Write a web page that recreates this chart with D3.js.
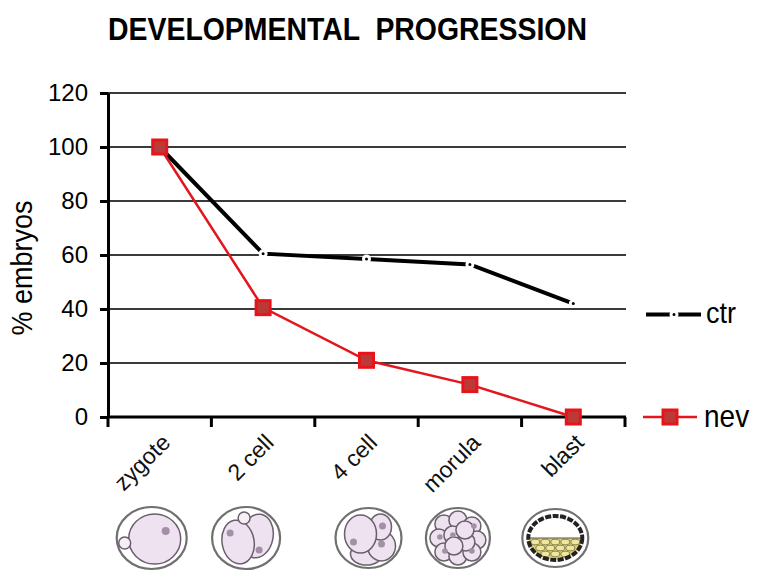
<!DOCTYPE html>
<html>
<head>
<meta charset="utf-8">
<script src="https://cdn.jsdelivr.net/npm/d3@7"></script>
<style>
  body { margin: 0; background: #fff; }
  text { font-family: Arial, "Liberation Sans", sans-serif; }
</style>
</head>
<body>
<script>
const wi = 757, hi = 584;     // width & height

// data
const stages = ['zygote', '2 cell', '4 cell', 'morula', 'blast'];
const ctr = [100, 60.5, 58.5, 56.5, 42];
const nev = [100, 40.5, 21, 12, 0];
const yTicks = [0, 20, 40, 60, 80, 100, 120];

const padL = 108, padR = 625, padT = 93, padB = 417;

let svg = d3.select('body')
    .append('svg')
    .attr('width', wi)
    .attr('height', hi);

let x = d3.scaleBand().domain(stages).range([padL, padR]);
let y = d3.scaleLinear().domain([0, 120]).range([padB, padT]);
const cx = (d) => x(d) + x.bandwidth() / 2;

// title
svg.append('text')
    .text('DEVELOPMENTAL  PROGRESSION')
    .attr('transform', 'translate(108,40) scale(1,1.1)')
    .attr('font-size', 28)
    .attr('font-weight', 'bold')
    .attr('textLength', 479)
    .attr('lengthAdjust', 'spacingAndGlyphs')
    .style('white-space', 'pre');

// grid lines
svg.append('g')
    .selectAll('line')
    .data(yTicks.filter((d) => d > 0))
    .enter()
    .append('line')
    .attr('x1', padL).attr('x2', padR + 1)
    .attr('y1', (d) => y(d)).attr('y2', (d) => y(d))
    .attr('stroke', '#3a3a3a')
    .attr('stroke-width', 2);

// y axis
let yAxis = svg.append('g')
    .attr('transform', `translate(${padL},0)`)
    .call(d3.axisLeft(y).tickValues(yTicks).tickSize(8).tickPadding(12).tickSizeOuter(0));
yAxis.select('.domain').attr('stroke', '#000').attr('stroke-width', 3);
yAxis.selectAll('.tick line').attr('stroke', '#000').attr('stroke-width', 3);
yAxis.selectAll('.tick text')
    .attr('font-size', 24)
    .attr('font-family', 'Arial, "Liberation Sans", sans-serif')
    .attr('fill', '#000');

// y label
svg.append('text')
    .text('% embryos')
    .attr('transform', `translate(32,268) rotate(-90) scale(1,1.12)`)
    .attr('text-anchor', 'middle')
    .attr('font-size', 27);

// x axis
let xAxis = svg.append('g');
xAxis.append('line')
    .attr('x1', padL - 1).attr('x2', padR + 1)
    .attr('y1', padB).attr('y2', padB)
    .attr('stroke', '#000').attr('stroke-width', 3);
xAxis.selectAll('line.tk')
    .data(d3.range(stages.length + 1))
    .enter()
    .append('line')
    .attr('class', 'tk')
    .attr('x1', (i) => padL + i * x.step())
    .attr('x2', (i) => padL + i * x.step())
    .attr('y1', padB).attr('y2', padB + 10)
    .attr('stroke', '#000').attr('stroke-width', 3);

xAxis.selectAll('text')
    .data(stages)
    .enter()
    .append('text')
    .text((d) => d)
    .attr('transform', (d) => `translate(${cx(d) + 12},${padB + 27}) rotate(-45)`)
    .attr('text-anchor', 'end')
    .attr('font-size', 23)
    .attr('fill', '#111');

// lines
let line = d3.line()
    .x((d, i) => cx(stages[i]))
    .y((d) => y(d))
    .curve(d3.curveLinear);

svg.append('path')
    .attr('d', line(ctr))
    .attr('stroke', '#000')
    .attr('stroke-width', 4)
    .attr('fill', 'none');

svg.selectAll('circle.ctr')
    .data(ctr)
    .enter()
    .append('circle')
    .attr('class', 'ctr')
    .attr('cx', (d, i) => cx(stages[i]))
    .attr('cy', (d) => y(d))
    .attr('r', 3)
    .attr('fill', '#000')
    .attr('stroke', '#fff')
    .attr('stroke-width', 3);

svg.append('path')
    .attr('d', line(nev))
    .attr('stroke', '#e3161d')
    .attr('stroke-width', 2.5)
    .attr('fill', 'none');

svg.selectAll('rect.nev')
    .data(nev)
    .enter()
    .append('rect')
    .attr('class', 'nev')
    .attr('x', (d, i) => cx(stages[i]) - 7)
    .attr('y', (d) => y(d) - 7)
    .attr('width', 14)
    .attr('height', 14)
    .attr('fill', '#b93a36')
    .attr('stroke', '#e8141c')
    .attr('stroke-width', 3);

// legend
let lg = svg.append('g');
lg.append('line')
    .attr('x1', 646).attr('x2', 701).attr('y1', y(38)).attr('y2', y(38))
    .attr('stroke', '#000').attr('stroke-width', 4);
lg.append('circle')
    .attr('cx', 674).attr('cy', y(38)).attr('r', 3)
    .attr('fill', '#000').attr('stroke', '#fff').attr('stroke-width', 3);
lg.append('text').text('ctr')
    .attr('transform', `translate(706,${y(38) + 9}) scale(1,1.1)`)
    .attr('font-size', 27);

lg.append('line')
    .attr('x1', 643).attr('x2', 697).attr('y1', y(0)).attr('y2', y(0))
    .attr('stroke', '#e3161d').attr('stroke-width', 2.5);
lg.append('rect')
    .attr('x', 663).attr('y', y(0) - 7).attr('width', 14).attr('height', 14)
    .attr('fill', '#b93a36').attr('stroke', '#e8141c').attr('stroke-width', 3);
lg.append('text').text('nev')
    .attr('transform', `translate(704,${y(0) + 10}) scale(1,1.15)`)
    .attr('font-size', 28);

// embryo drawings under the axis
const ring = '#707070', edge = '#6a5f6c', cyto = '#eee2f0', nuc = '#a48fa8';
const iconY = 538;

function shell(g, rx, ry) {
    g.append('ellipse').attr('rx', rx).attr('ry', ry)
        .attr('fill', '#fff').attr('stroke', ring).attr('stroke-width', 2.2);
}
function cell(g, x0, y0, rx, ry, rot) {
    g.append('ellipse').attr('cx', x0).attr('cy', y0).attr('rx', rx).attr('ry', ry)
        .attr('transform', rot ? `rotate(${rot},${x0},${y0})` : null)
        .attr('fill', cyto).attr('stroke', edge).attr('stroke-width', 1.5);
}
function dot(g, x0, y0, r) {
    g.append('circle').attr('cx', x0).attr('cy', y0).attr('r', r || 3.5).attr('fill', nuc);
}

const icons = {
    'zygote': (g) => {
        shell(g, 35, 31);
        cell(g, 3, 1, 26, 25);
        g.append('circle').attr('cx', -27).attr('cy', 5).attr('r', 6)
            .attr('fill', '#f6f0f6').attr('stroke', edge).attr('stroke-width', 1.5);
        dot(g, 14, -7, 4);
    },
    '2 cell': (g) => {
        shell(g, 34, 31);
        cell(g, 11, -2, 16, 22, 10);
        cell(g, -8, 4, 16, 22, -10);
        g.append('circle').attr('cx', -2).attr('cy', -20).attr('r', 6)
            .attr('fill', '#f6f0f6').attr('stroke', edge).attr('stroke-width', 1.5);
        dot(g, -16, -5);
        dot(g, 13, 12);
    },
    '4 cell': (g) => {
        shell(g, 33, 30);
        cell(g, -2, 16, 16, 11);
        cell(g, 13, 8, 14, 15);
        cell(g, 12, -11, 11, 13);
        cell(g, -8, -4, 16, 19);
        dot(g, -15, 4);
        dot(g, 14, -12);
        dot(g, 13, 6);
    },
    'morula': (g) => {
        shell(g, 32, 30);
        [[-14, -14], [0, -18], [14, -12], [-19, 0], [19, 2], [-14, 14], [0, 18], [14, 14],
         [-5, -3], [8, 4], [-4, 8], [7, -8]].forEach((p) => {
            cell(g, p[0], p[1], 9, 9);
        });
        [[-13, 13], [14, 13], [-5, -3], [16, -12], [-18, -1]].forEach((p) => dot(g, p[0], p[1], 2.8));
    },
    'blast': (g) => {
        shell(g, 33, 29);
        g.append('clipPath').attr('id', 'blastClip')
            .append('ellipse').attr('rx', 27).attr('ry', 22);
        g.append('ellipse').attr('rx', 27).attr('ry', 22).attr('fill', '#fff');
        let icm = g.append('g').attr('clip-path', 'url(#blastClip)');
        icm.append('rect').attr('x', -30).attr('y', 0).attr('width', 60).attr('height', 25)
            .attr('fill', '#d9cf7a');
        [[-20, 4], [-10, 4], [0, 4], [10, 4], [20, 4], [-15, 10], [-5, 10], [5, 10], [15, 10],
         [-10, 16], [0, 16], [10, 16]].forEach((p) => {
            icm.append('ellipse').attr('cx', p[0]).attr('cy', p[1]).attr('rx', 4.5).attr('ry', 2.8)
                .attr('fill', '#efe6a0').attr('stroke', '#6f6838').attr('stroke-width', 0.8);
        });
        icm.append('line').attr('x1', -30).attr('x2', 30).attr('y1', 0).attr('y2', 0)
            .attr('stroke', '#555').attr('stroke-width', 1.2);
        g.append('ellipse').attr('rx', 27).attr('ry', 22)
            .attr('fill', 'none').attr('stroke', '#222').attr('stroke-width', 4)
            .attr('stroke-dasharray', '6 1.5');
    }
};
const iconShift = {'zygote': -8, '2 cell': -17, '4 cell': 2, 'morula': -12, 'blast': -18};

stages.forEach((s) => {
    let g = svg.append('g').attr('transform', `translate(${cx(s) + iconShift[s]},${iconY})`);
    icons[s](g);
});
</script>
</body>
</html>
